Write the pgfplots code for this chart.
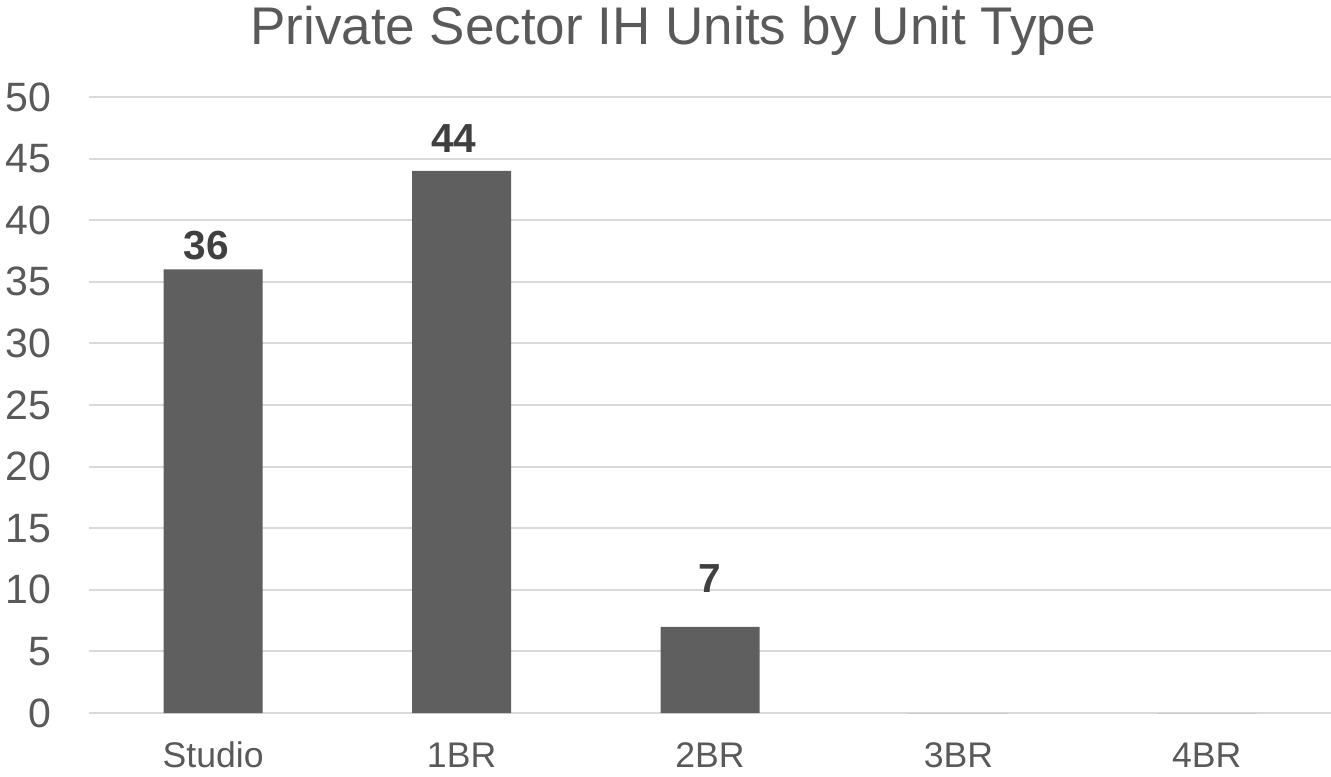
\documentclass[border=0pt]{standalone}
\usepackage{pgfplots}
\usepackage{pgfplotstable}
\pgfplotsset{compat=1.18}
\usepackage{fontspec}
\setmainfont{Liberation Sans}

\definecolor{txtgray}{HTML}{595959}
\definecolor{bargray}{HTML}{5F5F5F}
\definecolor{lblgray}{HTML}{404040}
\definecolor{gridgray}{HTML}{D9D9D9}

% unit counts by type; lbl is the printed value (empty for zero), dx/dy nudge it
\pgfplotstableread{
x  units lbl dx   dy
0  36    36  -3.5 4.5
1  44    44  -4   9
2  7     7   0    17
3  0     {}  0    0
4  0     {}  0    0
}\unitdata

\begin{document}
\begin{tikzpicture}
\useasboundingbox (-44.5pt,-31.5pt) rectangle (621pt,356.5pt);
\begin{axis}[
  at={(0,0)}, anchor=south west,
  scale only axis,
  width=621pt, height=308pt,
  xmin=-0.5, xmax=4.5,
  ymin=0, ymax=50,
  ytick={0,5,...,50},
  xtick={0,1,2,3,4},
  xticklabels={Studio,1BR,2BR,3BR,4BR},
  axis line style={draw=none},
  tick style={draw=none},
  ymajorgrids,
  grid style={gridgray, line width=1pt},
  /pgf/number format/assume math mode=true,
  ticklabel style={text=txtgray, inner sep=0pt},
  yticklabel style={font=\fontsize{20.5}{24}\selectfont, anchor=east, xshift=-18.5pt},
  xticklabel style={font=\fontsize{17.8}{21}\selectfont, anchor=base, yshift=-27pt},
  clip=false,
]
\addplot[ybar, bar width=49.5pt, fill=bargray, draw=none,
  point meta=explicit symbolic,
  visualization depends on={\thisrow{dx} \as \labdx},
  visualization depends on={\thisrow{dy} \as \labdy},
  nodes near coords,
  nodes near coords style={font=\bfseries\fontsize{20.3}{24}\selectfont, text=lblgray,
    anchor=south, inner sep=0pt, xshift=\labdx pt, yshift=\labdy pt},
] table[x=x, y=units, meta=lbl] {\unitdata};
\end{axis}
\node[anchor=base, text=txtgray, font=\fontsize{26.5}{30}\selectfont] at (292pt,334pt)
  {Private Sector IH Units by Unit Type};
\end{tikzpicture}
\end{document}
